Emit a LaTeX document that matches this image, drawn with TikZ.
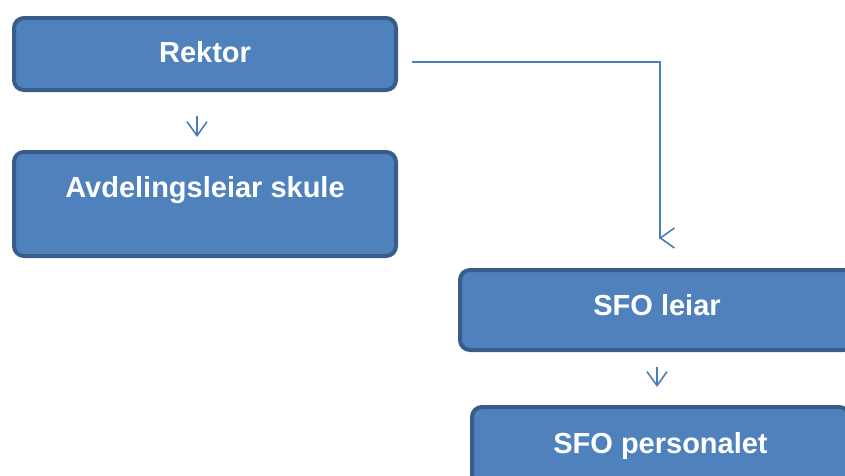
\documentclass[tikz,border=0pt]{standalone}
\usepackage{fontspec}
\setmainfont{Liberation Sans}
\usetikzlibrary{arrows.meta}
\definecolor{kastenfill}{HTML}{4F81BD}
\definecolor{kastenrand}{HTML}{385D8A}
\definecolor{pil}{HTML}{4A7EBB}
\begin{document}
\begin{tikzpicture}[x=1pt,y=-1pt]
\tikzset{kasten/.style={rectangle,rounded corners=10pt,draw=kastenrand,line width=4pt,fill=kastenfill,text=white,inner sep=0pt,font=\fontsize{29}{34}\selectfont\bfseries},
pil/.style={draw=pil,line width=1.6pt,-{Straight Barb[length=14pt,width=20pt]}}}
\useasboundingbox (0,0) rectangle (845,475);
\node [kasten,minimum width=382pt,text height=44pt,text depth=28pt] (rektor) at (205,54) {Rektor};
\node [kasten,minimum width=382pt,text height=45pt,text depth=59pt] (avd) at (205,204) {Avdelingsleiar skule};
\node [kasten,minimum width=394pt,text height=45pt,text depth=35pt] (sfoleiar) at (657,310) {SFO leiar};
\node [kasten,minimum width=377pt,text height=46pt,text depth=34pt] (sfopers) at (660.5,447) {SFO personalet};
\coordinate (knick) at (660,238);
\draw[pil,shorten <=24pt,shorten >=13pt] ([xshift=-8pt]rektor.south) to ([xshift=-8pt]avd.north);
\draw[pil,shorten <=14pt] ([yshift=-8pt]rektor.east) -| (knick) -- ++(-1,0);
\draw[pil,shorten <=15pt,shorten >=18pt] (sfoleiar.south) to (sfoleiar.south |- sfopers.north);
\end{tikzpicture}
\end{document}
